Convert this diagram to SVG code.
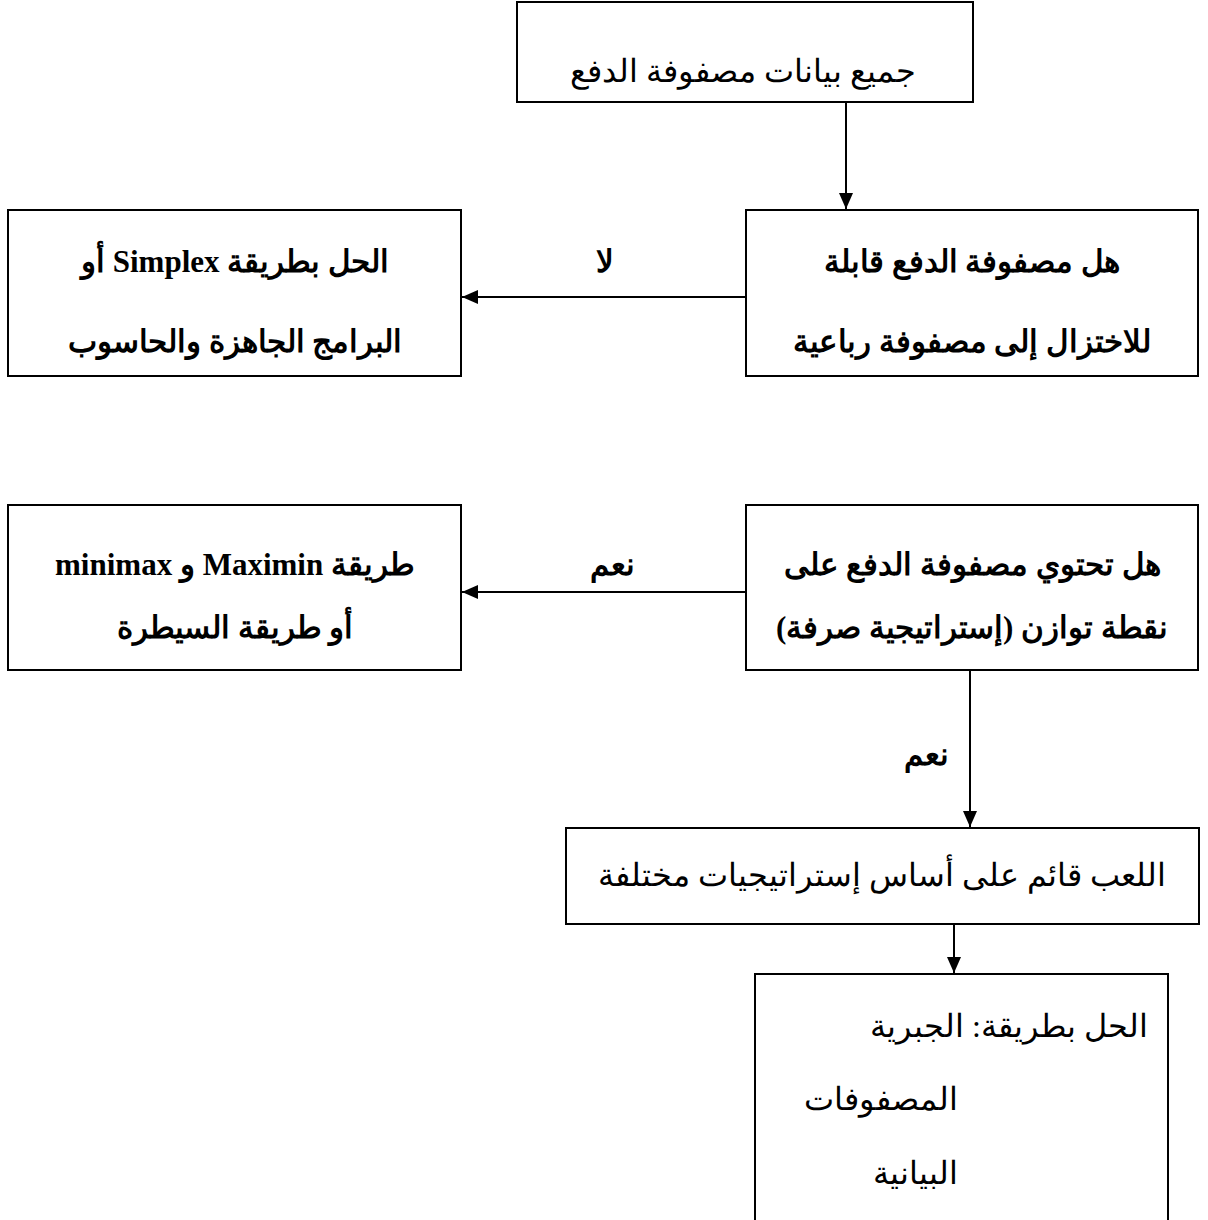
<svg xmlns="http://www.w3.org/2000/svg" width="1208" height="1220" viewBox="0 0 1208 1220">
<defs>
<marker id="ah" markerWidth="16" markerHeight="14" refX="16" refY="7" orient="auto" markerUnits="userSpaceOnUse">
<path d="M0,0 L16,7 L0,14 Z" fill="#000"/>
</marker>
<style>
.box{fill:#fff;stroke:#000;stroke-width:2}
.con{stroke:#000;stroke-width:2;fill:none;marker-end:url(#ah)}
.t{font-family:"Liberation Serif","DejaVu Serif",serif;fill:#000;direction:rtl}
.reg{font-size:34px}
.mid{font-size:32px}
.bold{font-size:31px;font-weight:bold}
</style>
</defs>
<rect width="1208" height="1220" fill="#fff"/>
<g id="connectors">
<line class="con" x1="846" y1="103" x2="846" y2="209"/>
<line class="con" x1="746" y1="297" x2="462" y2="297"/>
<line class="con" x1="746" y1="592" x2="462" y2="592"/>
<line class="con" x1="970" y1="670" x2="970" y2="827"/>
<line class="con" x1="954" y1="924" x2="954" y2="973"/>
<text class="t bold" x="605" y="272" text-anchor="middle">لا</text>
<text class="t bold" x="612" y="575" text-anchor="middle">نعم</text>
<text class="t bold" x="926" y="765" text-anchor="middle">نعم</text>
</g>
<g id="n1">
<rect class="box" x="517" y="2" width="456" height="100"/>
<text class="t mid" x="743" y="82" text-anchor="middle">جميع بيانات مصفوفة الدفع</text>
</g>
<g id="n2">
<rect class="box" x="746" y="210" width="452" height="166"/>
<text class="t bold" x="972" y="272" text-anchor="middle">هل مصفوفة الدفع قابلة</text>
<text class="t bold" x="972" y="352" text-anchor="middle">للاختزال إلى مصفوفة رباعية</text>
</g>
<g id="n3">
<rect class="box" x="8" y="210" width="453" height="166"/>
<text class="t bold" x="235" y="272" text-anchor="middle">الحل بطريقة Simplex أو</text>
<text class="t bold" x="235" y="352" text-anchor="middle">البرامج الجاهزة والحاسوب</text>
</g>
<g id="n4">
<rect class="box" x="746" y="505" width="452" height="165"/>
<text class="t bold" x="972" y="575" text-anchor="middle">هل تحتوي مصفوفة الدفع على</text>
<text class="t bold" x="972" y="638" text-anchor="middle">نقطة توازن (إستراتيجية صرفة)</text>
</g>
<g id="n5">
<rect class="box" x="8" y="505" width="453" height="165"/>
<text class="t bold" x="235" y="575" text-anchor="middle">طريقة Maximin و minimax</text>
<text class="t bold" x="235" y="638" text-anchor="middle">أو طريقة السيطرة</text>
</g>
<g id="n6">
<rect class="box" x="566" y="828" width="633" height="96"/>
<text class="t mid" x="882" y="886" text-anchor="middle">اللعب قائم على أساس إستراتيجيات مختلفة</text>
</g>
<g id="n7">
<rect class="box" x="755" y="974" width="413" height="250"/>
<text class="t mid" x="1148" y="1037" text-anchor="start">الحل بطريقة:  الجبرية</text>
<text class="t mid" x="958" y="1110" text-anchor="start">المصفوفات</text>
<text class="t mid" x="958" y="1184" text-anchor="start">البيانية</text>
</g>
</svg>
